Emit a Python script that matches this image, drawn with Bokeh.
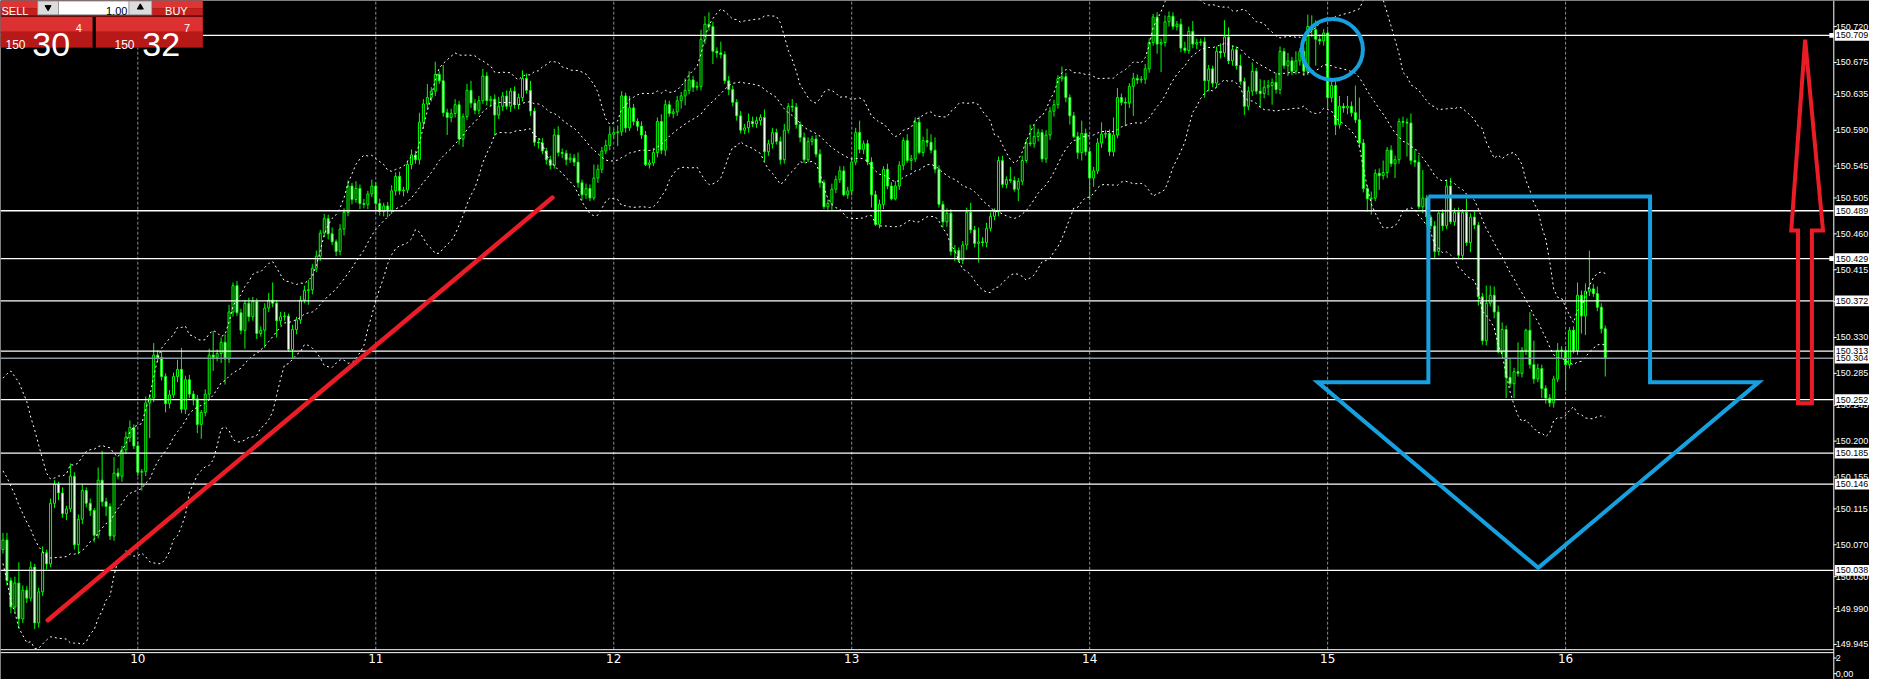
import numpy as np
import pandas as pd
from bokeh.plotting import figure
from bokeh.models import Range1d
from bokeh.core.properties import value
from bokeh.embed import file_html
from bokeh.resources import INLINE

# ------------------------------------------------------------------ data
BASE = 150.0          # prices below are thousandths above 150.000
UNIT = 0.001

# closes of the 20 bars just left of the visible chart (seed the bands)
pre_close = [200, 190, 215, 232, 240, 226, 214, 228, 216, 200,
             184, 170, 156, 140, 122, 110, 96, 88, 80, 72]
first_open = 64

close_k = [
    76, 25, -8, 22, -23, 13, 3, 42, -28, 11, 60, 46, 122, 146, 135, 109, 115, 156, 70, 102,
    138, 122, 113, 82, 151, 124, 118, 81, 160, 156, 189, 205, 217, 194, 161, 162, 248, 254, 308, 305,
    281, 247, 258, 281, 290, 240, 277, 259, 253, 221, 236, 259, 308, 305, 310, 324, 303, 362, 395, 361,
    339, 373, 356, 375, 335, 339, 367, 377, 373, 351, 356, 357, 315, 340, 352, 377, 389, 390, 417, 432,
    461, 479, 460, 450, 438, 466, 487, 520, 503, 517, 498, 497, 510, 520, 498, 488, 495, 490, 514, 532,
    514, 515, 547, 559, 553, 600, 623, 631, 639, 660, 652, 612, 606, 611, 622, 579, 607, 640, 624, 615,
    627, 658, 627, 629, 609, 620, 633, 620, 639, 622, 631, 655, 640, 614, 575, 574, 564, 553, 546, 584,
    562, 561, 553, 555, 550, 524, 509, 517, 505, 530, 541, 564, 571, 585, 587, 588, 633, 593, 618, 601,
    595, 584, 547, 549, 562, 601, 565, 622, 611, 613, 627, 633, 640, 653, 644, 645, 704, 723, 720, 689,
    687, 685, 652, 641, 625, 608, 590, 593, 601, 598, 602, 606, 563, 573, 587, 576, 553, 590, 620, 619,
    597, 581, 553, 576, 579, 560, 524, 494, 498, 516, 528, 539, 509, 514, 550, 587, 566, 573, 550, 509,
    472, 497, 541, 520, 504, 520, 546, 577, 552, 554, 600, 562, 577, 575, 565, 541, 497, 475, 486, 438,
    439, 427, 446, 487, 465, 448, 450, 449, 467, 482, 488, 552, 522, 528, 527, 516, 526, 552, 574, 573,
    582, 587, 554, 584, 614, 622, 655, 657, 631, 608, 582, 562, 586, 563, 530, 539, 574, 585, 586, 563,
    584, 631, 625, 624, 645, 655, 653, 654, 667, 700, 732, 698, 700, 726, 733, 720, 723, 693, 690, 714,
    698, 700, 701, 652, 667, 649, 689, 687, 707, 677, 691, 671, 651, 620, 639, 664, 639, 636, 644, 646,
    650, 641, 689, 671, 677, 664, 677, 689, 664, 720, 716, 704, 702, 712, 631, 646, 597, 620, 618, 620,
    612, 603, 574, 517, 504, 505, 536, 533, 537, 565, 548, 553, 601, 600, 599, 552, 550, 494, 505, 481,
    470, 438, 486, 470, 520, 475, 487, 433, 487, 449, 481, 471, 381, 326, 373, 383, 362, 312, 340, 280,
    272, 287, 285, 314, 339, 296, 278, 291, 266, 254, 248, 278, 314, 313, 296, 339, 314, 383, 357, 388,
    391, 385, 368, 341, 304,
]

wick_up = [
    9, 9, 4, 8, 26, 6, 5, 7, 4, 5, 8, 4, 6, 5, 3, 7, 4, 16, 5, 6,
    8, 4, 6, 3, 16, 37, 5, 4, 20, 6, 5, 7, 9, 4, 6, 3, 8, 5, 15, 6,
    7, 4, 6, 5, 12, 27, 5, 6, 4, 5, 3, 6, 8, 30, 5, 6, 10, 9, 4, 6,
    5, 4, 7, 6, 4, 5, 6, 9, 22, 4, 6, 5, 3, 6, 4, 5, 6, 12, 5, 7,
    4, 6, 5, 8, 3, 6, 5, 7, 4, 9, 5, 6, 4, 8, 5, 6, 4, 5, 7, 5,
    6, 4, 5, 7, 5, 12, 6, 17, 5, 16, 4, 20, 5, 6, 7, 5, 4, 8, 12, 5,
    6, 9, 5, 4, 6, 12, 5, 7, 4, 6, 5, 10, 6, 12, 4, 5, 6, 4, 5, 8,
    11, 5, 4, 6, 5, 12, 4, 6, 5, 17, 6, 5, 7, 10, 5, 8, 6, 4, 15, 5,
    4, 6, 5, 4, 6, 5, 9, 6, 5, 4, 6, 5, 15, 11, 5, 6, 12, 10, 15, 6,
    5, 14, 4, 6, 5, 4, 6, 5, 10, 6, 5, 4, 10, 5, 6, 5, 6, 8, 4, 9,
    5, 4, 6, 5, 4, 5, 6, 4, 5, 7, 5, 6, 6, 5, 7, 6, 15, 4, 5, 6,
    5, 6, 4, 7, 5, 6, 5, 4, 8, 5, 6, 7, 5, 15, 10, 16, 5, 4, 6, 5,
    7, 4, 5, 6, 12, 5, 18, 6, 7, 5, 4, 5, 6, 4, 16, 5, 4, 6, 5, 23,
    15, 5, 4, 6, 5, 6, 4, 13, 5, 4, 5, 6, 16, 6, 4, 5, 6, 15, 4, 5,
    22, 12, 5, 6, 4, 7, 5, 4, 6, 5, 4, 6, 5, 8, 6, 5, 4, 7, 8, 6,
    13, 5, 4, 6, 5, 4, 6, 10, 21, 12, 5, 4, 14, 5, 6, 11, 4, 15, 9, 7,
    5, 12, 6, 4, 10, 5, 12, 4, 5, 15, 14, 12, 6, 5, 4, 5, 6, 13, 4, 13,
    6, 34, 28, 5, 4, 8, 5, 6, 15, 4, 6, 5, 4, 6, 5, 12, 14, 9, 35, 4,
    3, 6, 2, 5, 8, 10, 5, 6, 4, 17, 5, 7, 4, 5, 22, 12, 11, 8, 9, 5,
    23, 5, 37, 4, 2, 23, 30, 6, 5, 4, 5, 4, 9, 5, 6, 4, 5, 16, 6, 10,
    48, 6, 9, 5, 4,
]

wick_dn = [
    5, 6, 8, 7, 12, 5, 6, 4, 8, 6, 5, 7, 4, 6, 9, 5, 8, 4, 6, 12,
    6, 5, 7, 9, 4, 6, 12, 5, 6, 4, 7, 5, 6, 4, 5, 23, 6, 44, 5, 6,
    5, 11, 6, 4, 7, 5, 6, 5, 8, 11, 18, 5, 6, 17, 5, 12, 32, 5, 6, 4,
    5, 23, 6, 5, 7, 4, 22, 5, 5, 21, 6, 5, 3, 12, 6, 5, 4, 18, 6, 5,
    6, 5, 7, 4, 6, 5, 8, 5, 6, 4, 7, 5, 6, 4, 8, 5, 6, 9, 5, 6,
    5, 7, 4, 6, 5, 6, 8, 7, 5, 6, 4, 5, 22, 6, 5, 7, 10, 4, 6, 5,
    5, 4, 6, 7, 26, 5, 6, 4, 7, 5, 6, 5, 4, 6, 5, 7, 4, 6, 5, 4,
    5, 6, 7, 4, 5, 6, 7, 5, 4, 3, 6, 5, 4, 6, 5, 17, 5, 6, 4, 5,
    6, 5, 2, 5, 4, 6, 5, 7, 4, 6, 5, 10, 12, 5, 6, 4, 5, 6, 5, 16,
    6, 5, 4, 7, 5, 6, 4, 5, 6, 4, 5, 6, 12, 5, 6, 4, 6, 5, 4, 6,
    5, 6, 4, 3, 5, 4, 6, 3, 6, 8, 5, 4, 2, 5, 6, 4, 5, 6, 4, 16,
    2, 5, 6, 4, 2, 2, 5, 6, 3, 12, 4, 2, 5, 6, 4, 5, 4, 7, 6, 5,
    12, 3, 5, 6, 4, 5, 24, 5, 6, 4, 5, 6, 4, 5, 3, 3, 15, 5, 3, 3,
    5, 6, 4, 5, 6, 7, 5, 4, 6, 11, 2, 8, 10, 5, 27, 11, 4, 6, 5, 5,
    6, 4, 4, 29, 6, 37, 5, 4, 6, 5, 4, 12, 35, 5, 6, 4, 5, 5, 3, 4,
    5, 6, 4, 21, 13, 5, 6, 7, 5, 4, 6, 5, 4, 11, 5, 6, 4, 18, 6, 10,
    24, 5, 6, 4, 13, 5, 4, 6, 6, 5, 9, 33, 5, 6, 13, 6, 13, 5, 6, 8,
    5, 4, 6, 5, 16, 20, 4, 18, 5, 7, 4, 18, 5, 6, 42, 5, 6, 3, 8, 10,
    4, 9, 5, 6, 4, 3, 5, 5, 6, 4, 12, 5, 11, 5, 6, 4, 8, 2, 6, 26,
    5, 18, 4, 5, 6, 5, 6, 4, 12, 7, 5, 6, 4, 8, 33, 5, 4, 6, 22, 24,
    6, 4, 5, 6, 23,
]

day_labels = ["10", "11", "12", "13", "14", "15", "16"]
day_first_bar = [34, 94, 154, 214, 274, 334, 394]

price_ticks = [150.720, 150.675, 150.635, 150.590, 150.545, 150.505, 150.460,
               150.415, 150.375, 150.330, 150.285, 150.245, 150.200, 150.155,
               150.115, 150.070, 150.030, 149.990, 149.945]
level_lines = [150.709, 150.489, 150.429, 150.376, 150.313, 150.252,
               150.185, 150.146, 150.038]
level_text = ["150.709", "150.489", "150.429", "150.372", "150.313", "150.252",
              "150.185", "150.146", "150.038"]
bid_price = 150.304
bid_text = "150.304"

sub_ticks = ["2", "0,00"]

# hand-drawn objects (bar index, price)
trend_x = [11.3, 138.55]
trend_y = [149.9754, 150.5055]
circle_x = [335.2]
circle_y = [150.6914]
down_arrow_x = [359.4, 415.3, 415.3, 442.7, 387.1, 331.5, 359.4, 359.4]
down_arrow_y = [150.507, 150.507, 150.274, 150.274, 150.041, 150.274, 150.274, 150.507]
up_arrow_x = [454.4, 458.9, 456.1, 456.1, 452.6, 452.6, 450.9, 454.4]
up_arrow_y = [150.7037, 150.4643, 150.4643, 150.2474, 150.2474, 150.4643, 150.4643, 150.7037]

sell_big, sell_sup, buy_big, buy_sup, price_head, lot_text = "30", "4", "32", "7", "150", "1.00"

# ------------------------------------------------------------------ geometry
W, H = 1869, 679                 # canvas (page has an 8px margin)
REF_W, REF_H = 1885, 695         # the reference picture is fitted into the canvas
PX_BAR = 4.0
PX_PRICE = 816.0
BAR0_PX = 2.5                    # reference x of bar 0
P_TOP = 150.720 + 26.7 / PX_PRICE  # price at reference y = 0


def X(px):
    return (px - BAR0_PX) / PX_BAR


def Y(py):
    return P_TOP - py / PX_PRICE


GREEN = "#00ff00"
BLUE = "#16a0e0"
RED = "#ea1d27"
GRIDC = "#7d8ea2"
FONT = value("DejaVu Sans")
PFONT = value("Liberation Sans")

# ------------------------------------------------------------------ series
n = len(close_k)
idx = np.arange(n)
c = BASE + np.array(close_k) * UNIT
o = BASE + np.array([first_open] + close_k[:-1]) * UNIT
top = np.maximum(o, c)
bot = np.minimum(o, c)
hi = top + np.array(wick_up) * UNIT
lo = bot - np.array(wick_dn) * UNIT
fill = np.where(c < o, "white", "black")

allc = pd.Series(BASE + np.array(pre_close + close_k) * UNIT)
mid = allc.rolling(20).mean()
sd = allc.rolling(20).std(ddof=0)
band_mid = mid.values[-n:]
band_up = (mid + 2 * sd).values[-n:]
band_dn = (mid - 2 * sd).values[-n:]

# ------------------------------------------------------------------ figure
p = figure(width=W, height=H,
           x_range=Range1d(X(0), X(REF_W)),
           y_range=Range1d(Y(REF_H), Y(0)),
           output_backend="svg", toolbar_location=None,
           x_axis_location=None, y_axis_location=None,
           min_border=0, background_fill_color="black",
           border_fill_color="black", outline_line_color=None)
p.xgrid.visible = False
p.ygrid.visible = False
for r in p.renderers:
    pass
for g in p.center:
    g.visible = False

AXIS_X = X(1849)
PANEL_BOTTOM = Y(664.5)

# day separators
p.segment(x0=day_first_bar, y0=[PANEL_BOTTOM] * 7, x1=day_first_bar, y1=[Y(0)] * 7,
          line_color=GRIDC, line_width=1, line_dash="3 2")

# candles
p.segment(x0=idx, y0=hi, x1=idx, y1=lo, line_color=GREEN, line_width=1)
p.vbar(x=idx, width=0.5, top=top, bottom=bot, fill_color=fill,
       line_color=GREEN, line_width=1)

# bollinger bands
for band in (band_up, band_mid, band_dn):
    p.line(idx, band, line_color="white", line_width=1, line_dash="2 3")

# horizontal levels
p.segment(x0=[X(0)] * len(level_lines), y0=level_lines,
          x1=[AXIS_X] * len(level_lines), y1=level_lines,
          line_color="white", line_width=1.3)
p.segment(x0=[X(0)], y0=[bid_price], x1=[AXIS_X], y1=[bid_price],
          line_color="#8a96a4", line_width=1.3)

# drawn objects
p.line(trend_x, trend_y, line_color=RED, line_width=4.5, line_cap="round")
p.scatter(circle_x, circle_y, marker="circle", size=61, fill_color=None,
          line_color=BLUE, line_width=4)
p.line(down_arrow_x, down_arrow_y, line_color=BLUE, line_width=4, line_join="miter")
p.line(up_arrow_x, up_arrow_y, line_color=RED, line_width=4, line_join="miter")

# bottom separator + sub window
p.segment(x0=[X(0), X(0)], y0=[Y(664.5), Y(667.5)], x1=[AXIS_X, AXIS_X],
          y1=[Y(664.5), Y(667.5)], line_color="white", line_width=1)

# price scale
LBL_X = X(1851)
p.segment(x0=[AXIS_X], y0=[Y(0)], x1=[AXIS_X], y1=[Y(REF_H)], line_color="white", line_width=1)
p.segment(x0=[AXIS_X] * len(price_ticks), y0=price_ticks,
          x1=[X(1852)] * len(price_ticks), y1=price_ticks, line_color="white", line_width=1)
p.text(x=[LBL_X] * len(price_ticks), y=price_ticks,
       text=[f"{v:.3f}" for v in price_ticks], text_font=PFONT, text_font_size="9px",
       text_color="white", text_align="left", text_baseline="middle")

box_levels = level_lines + [bid_price]
box_text = level_text + [bid_text]
half = 5.5 / PX_PRICE
p.quad(left=[X(1850)] * len(box_levels), right=[X(1900)] * len(box_levels),
       top=[v + half for v in box_levels], bottom=[v - half for v in box_levels],
       fill_color="white", line_color=None)
p.text(x=[LBL_X] * len(box_levels), y=box_levels, text=box_text,
       text_font=PFONT, text_font_size="9px", text_color="black",
       text_align="left", text_baseline="middle")
sq = [level_lines[0], level_lines[2]]
p.quad(left=[X(1844.5)] * 2, right=[X(1849)] * 2,
       top=[v + 2.5 / PX_PRICE for v in sq], bottom=[v - 2.5 / PX_PRICE for v in sq],
       fill_color="white", line_color=None)

# sub window scale
p.segment(x0=[AXIS_X] * 2, y0=[Y(673), Y(689)], x1=[X(1852)] * 2, y1=[Y(673), Y(689)],
          line_color="white", line_width=1)
p.text(x=[LBL_X] * 2, y=[Y(673), Y(689)], text=sub_ticks, text_font=PFONT,
       text_font_size="9px", text_color="white", text_align="left", text_baseline="middle")

# day labels
p.text(x=day_first_bar, y=[Y(674)] * 7, text=day_labels, text_font=FONT,
       text_font_size="12px", text_color="white", text_align="center",
       text_baseline="middle")

# ------------------------------------------------------------------ one-click panel
def box(x0, x1, y0, y1, color):
    p.quad(left=[X(x0)], right=[X(x1)], top=[Y(y0)], bottom=[Y(y1)],
           fill_color=color, line_color=None)


box(0, 204, 0, 48, "#6e0c0c")
box(0, 37, 0, 8, "#df3434")
box(0, 37, 8, 15, "#c21f1f")
box(153, 204, 0, 8, "#df3434")
box(153, 204, 8, 15, "#c21f1f")
box(37, 153, 0, 15, "#9a9a9a")
box(38, 58, 1, 14, "#dcdcdc")
box(59, 129, 1, 14, "white")
box(130, 152, 1, 14, "#dcdcdc")
box(0, 93, 17, 32, "#dd3030")
box(0, 93, 32, 48, "#b71818")
box(96, 204, 17, 32, "#dd3030")
box(96, 204, 32, 48, "#b71818")
box(93, 96, 17, 48, "black")
p.scatter([X(48)], [Y(7)], marker="inverted_triangle", size=6, color="black")
p.scatter([X(141)], [Y(7)], marker="triangle", size=6, color="black")

p.text(x=[X(1), X(166)], y=[Y(11), Y(11)], text=["SELL", "BUY"], text_font=PFONT,
       text_font_size="11px", text_color="white", text_align="left",
       text_baseline="alphabetic")
p.text(x=[X(128)], y=[Y(11)], text=[lot_text], text_font=PFONT, text_font_size="11px",
       text_color="black", text_align="right", text_baseline="alphabetic")
p.text(x=[X(5), X(115)], y=[Y(45), Y(45)], text=[price_head, price_head], text_font=PFONT,
       text_font_size="12px", text_color="white", text_align="left",
       text_baseline="alphabetic")
p.text(x=[X(32), X(143)], y=[Y(45), Y(45)], text=[sell_big, buy_big], text_font=PFONT,
       text_font_size="34px", text_color="white", text_align="left",
       text_baseline="alphabetic")
p.text(x=[X(76), X(185)], y=[Y(28), Y(28)], text=[sell_sup, buy_sup], text_font=PFONT,
       text_font_size="11px", text_color="white", text_align="left",
       text_baseline="alphabetic")

open("out.html", "w").write(file_html(p, INLINE))
